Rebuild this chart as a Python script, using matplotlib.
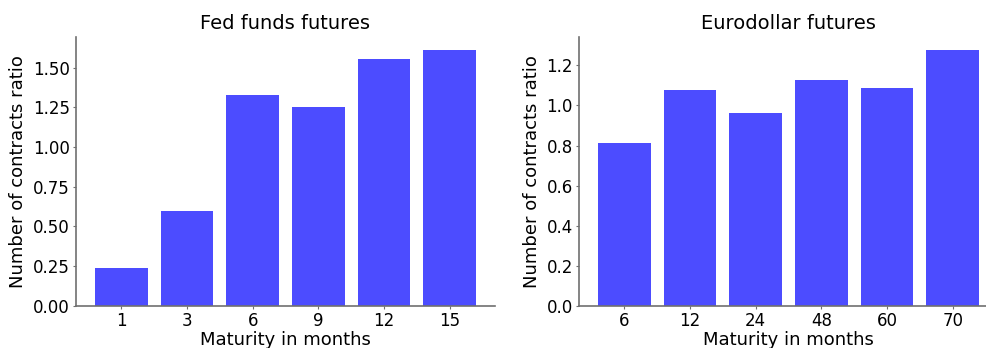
import numpy as np
import matplotlib.pyplot as plt

# --------------------------------------------
# Data
# --------------------------------------------
fed_maturities = ["1", "3", "6", "9", "12", "15"]
fed_ratios = [0.237, 0.60, 1.33, 1.25, 1.555, 1.613]

ed_maturities = ["6", "12", "24", "48", "60", "70"]
ed_ratios = [0.815, 1.079, 0.96, 1.129, 1.089, 1.278]

bar_color = (0, 0, 1, 0.7)
spine_color = "#707070"

fig = plt.figure(figsize=(9.87, 3.48), dpi=100)
ax1 = fig.add_axes([76 / 987, 42.3 / 348, 419 / 987, 268.7 / 348])
ax2 = fig.add_axes([579 / 987, 42.3 / 348, 419 / 987, 268.7 / 348])


def draw_panel(ax, labels, values, title):
    x = np.arange(len(labels))
    ax.bar(x, values, width=0.8, color=bar_color, zorder=1)
    ax.set_xticks(x)
    ax.set_xticklabels(labels)
    ax.set_title(title, fontsize=14)
    ax.set_xlabel("Maturity in months", fontsize=13, labelpad=1)
    ax.set_ylabel("Number of contracts ratio", fontsize=13)
    ax.tick_params(labelsize=12, length=2.5, width=0.8, color=spine_color, pad=2)
    ax.spines["top"].set_visible(False)
    ax.spines["right"].set_visible(False)
    for s in ("left", "bottom"):
        ax.spines[s].set_color(spine_color)
        ax.spines[s].set_linewidth(1.2)


draw_panel(ax1, fed_maturities, fed_ratios, "Fed funds futures")
ax1.set_yticks(np.arange(0, 1.51, 0.25))
ax1.set_yticklabels([f"{v:.2f}" for v in np.arange(0, 1.51, 0.25)])

draw_panel(ax2, ed_maturities, ed_ratios, "Eurodollar futures")
ax2.set_yticks(np.arange(0, 1.21, 0.2))
ax2.set_yticklabels([f"{v:.1f}" for v in np.arange(0, 1.21, 0.2)])

fig.savefig("out.png", dpi=100)
